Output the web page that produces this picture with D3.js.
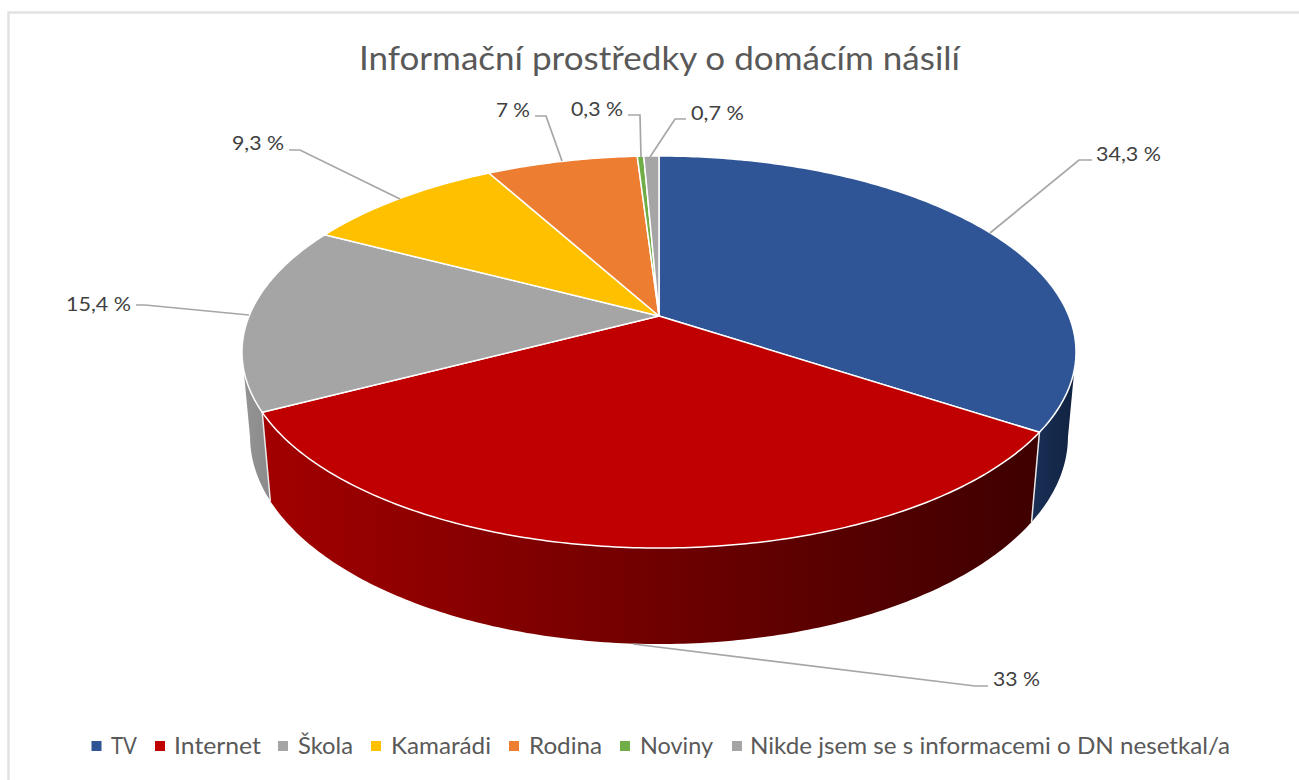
<!DOCTYPE html>
<html><head><meta charset="utf-8">
<script src="https://cdn.jsdelivr.net/npm/d3@7"></script>
<style>html,body{margin:0;padding:0;background:#fff;overflow:hidden}svg{display:block}text{font-family:Lato,"Open Sans",sans-serif;fill:#595959}</style>
</head><body><svg id="c" width="1299" height="780"></svg>
<script>
const titleText = "Informační prostředky o domácím násilí";
const categories = ["TV","Internet","Škola","Kamarádi","Rodina","Noviny","Nikde jsem se s informacemi o DN nesetkal/a"];
const values = [34.3,33,15.4,9.3,7,0.3,0.7];
const valueLabels = ["34,3 %","33 %","15,4 %","9,3 %","7 %","0,3 %","0,7 %"];
const colors = ["#2F5597","#C00000","#A5A5A5","#FFC000","#ED7D31","#70AD47","#A5A5A5"];
const wallColors = [["#1A3058","#10223F"],["#A30000","#3F0000"],["#949494","#8A8A8A"]];

// layout: label anchor (left x, baseline y, width) and leader elbows
const labelLayout = [[1096,161,65],[993,686,47],[66,311,65],[232,150,52],[496,117,34],[571,116,52],[691,120,53]];
const leaders = [
 [[990,233],[1079,160],[1092,160]],
 [[633,644],[975,686],[988,686]],
 [[249,315],[145,305],[136,305]],
 [[400,199],[300,150],[289,150]],
 [[562,161],[546,116],[535,116]],
 [[641,157],[640,115],[628,115]],
 [[650,157],[675,119],[686,119]]];
const legendLayout = [[91.5,111,26],[155,174,87],[278,298,55],[371,391,100],[509,529,73],[620,640,73],[732,750,480]];

const svg = d3.select("#c");
const cx=659, cy=316, b=409.9, a=189.4, k=0.1837, m=0.019, c=84.6;
// perspective projection of the pie disc: theta clockwise from top, z 0 = top face, 1 = bottom face
function project(t,z){
  const u=Math.sin(t), v=-Math.cos(t), w=1-k*v+m*z;
  return [cx+b*u/w, cy+(a*v+c*z)/w];
}
const line=d3.line();
const arcs=d3.pie().sort(null).value(d=>d)(values);
const rim=(t0,t1,z)=>{const n=Math.max(2,Math.ceil((t1-t0)*80));return d3.range(n+1).map(i=>project(t0+(t1-t0)*i/n,z));};

// frame
svg.append("path").attr("d",line([[1299,12.5],[8.5,12.5],[8.5,780]])).attr("fill","none").attr("stroke","#E2E2E2").attr("stroke-width",2.5);

// gradients for walls
const defs=svg.append("defs");
const gid=["gTV","gNet","gSk"];
const gx=[[1031,1076],[261,1031],[243,271]];
wallColors.forEach((wc,i)=>{
  const g=defs.append("linearGradient").attr("id",gid[i]).attr("gradientUnits","userSpaceOnUse")
    .attr("x1",gx[i][0]).attr("x2",gx[i][1]).attr("y1",0).attr("y2",0);
  g.append("stop").attr("offset",0).attr("stop-color",wc[0]);
  g.append("stop").attr("offset",1).attr("stop-color",wc[1]);
});

// walls: only the three front slices show a side; side silhouette starts where the rim is widest
const tv=arcs[0], net=arcs[1], sk=arcs[2];
const sil=Math.acos(-k);
const wall=(t0,t1)=>line(rim(t0,t1,0).concat(rim(t0,t1,1).reverse()))+"Z";
const wallData=[[sil,tv.endAngle,"url(#gTV)"],[sk.startAngle,2*Math.PI-sil,"url(#gSk)"],[net.startAngle,net.endAngle,"url(#gNet)"]];
svg.selectAll("path.wall").data(wallData).join("path").attr("class","wall")
  .attr("d",d=>wall(d[0],d[1])).attr("fill",d=>d[2]);
// seams between walls
[tv.endAngle,net.endAngle].forEach(t=>{
  svg.append("path").attr("d",line([project(t,0),project(t,1)])).attr("stroke","#E8E8E8").attr("stroke-width",1.5).attr("fill","none");
});

// top face
svg.selectAll("path.top").data(arcs).join("path").attr("class","top")
  .attr("d",d=>line([[cx,cy]].concat(rim(d.startAngle,d.endAngle,0)))+"Z")
  .attr("fill",(d,i)=>colors[i]).attr("stroke","#fff").attr("stroke-width",1.5).attr("stroke-linejoin","round");

// leaders
svg.selectAll("path.leader").data(leaders).join("path").attr("class","leader")
  .attr("d",d=>line(d)).attr("fill","none").attr("stroke","#A6A6A6").attr("stroke-width",1.7);

function fit(sel,w){sel.attr("textLength",w).attr("lengthAdjust","spacingAndGlyphs");}
// title
svg.append("text").attr("x",359).attr("y",70).attr("font-size",33).text(titleText).call(fit,601);
// data labels
valueLabels.forEach((t,i)=>{const l=labelLayout[i];
  svg.append("text").attr("x",l[0]).attr("y",l[1]).attr("font-size",20).style("fill","#404040").text(t).call(fit,l[2]);});
// legend
categories.forEach((t,i)=>{const l=legendLayout[i];
  svg.append("rect").attr("x",l[0]).attr("y",741).attr("width",10).attr("height",10).attr("fill",colors[i]);
  svg.append("text").attr("x",l[1]).attr("y",754).attr("font-size",23).text(t).call(fit,l[2]);});
</script></body></html>
